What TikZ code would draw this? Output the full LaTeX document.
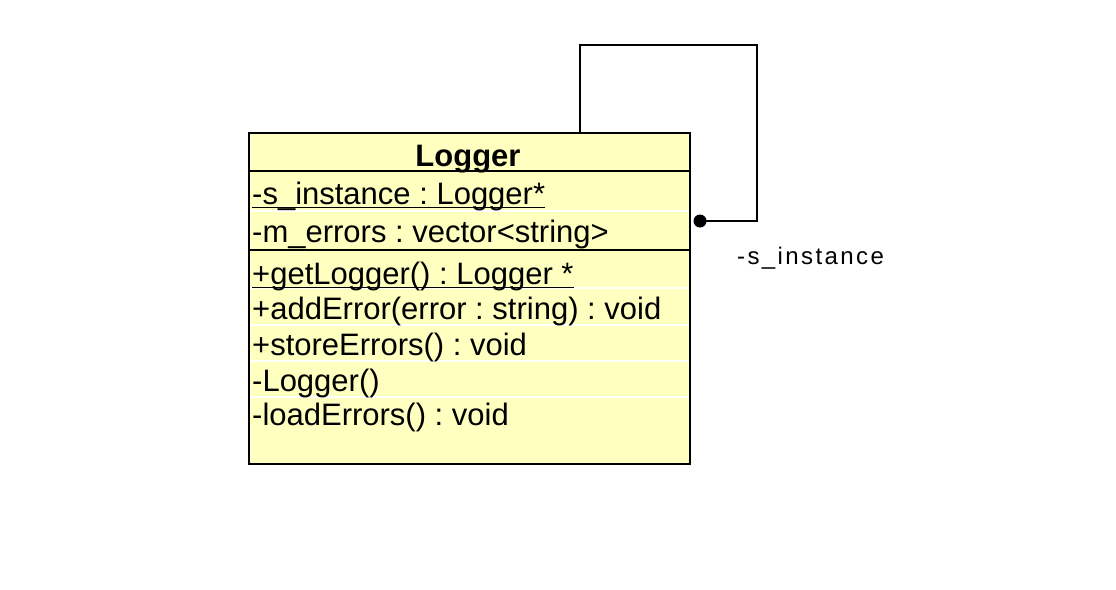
\documentclass[tikz,border=0pt]{standalone}
\usepackage{fontspec}
\setmainfont{Liberation Sans}
\definecolor{classfill}{RGB}{255,255,192}
\begin{document}
\frenchspacing
\begin{tikzpicture}[x=1pt,y=-1pt,
  classbox/.style={draw=black, line width=2pt, fill=classfill, rectangle, inner sep=0pt, minimum width=441pt, minimum height=331pt},
  member/.style={anchor=base west, inner sep=0pt, font=\fontsize{31}{37}\selectfont},
  titletext/.style={anchor=base, inner sep=0pt, font=\fontsize{31}{37}\selectfont\bfseries},
  rowsep/.style={draw=white, line width=1.5pt},
  compsep/.style={draw=black, line width=2pt},
  uline/.style={draw=black, line width=1.8pt},
  assoc/.style={draw=black, line width=2pt},
  rolefont/.style={anchor=base west, inner sep=0pt, font=\fontsize{24}{28}\selectfont\addfontfeature{LetterSpace=10}}
]
\useasboundingbox (0,0) rectangle (1116,589);
\node[classbox] (logger) at (469.5,298.5) {};
% compartment separators
\draw[compsep] (logger.west |- 0,171) -- (logger.east |- 0,171);
\draw[compsep] (logger.west |- 0,250) -- (logger.east |- 0,250);
\foreach \yy in {211,288,325,361,397}
  \draw[rowsep] (250,\yy) -- (689,\yy);
% texts
\node[titletext] (title) at (468,166) {Logger};
\node[member] (a1) at (252,204) {-s\_instance : Logger*};
\node[member] (a2) at (252,242) {-m\_errors : vector<string>};
\node[member] (m1) at (252,284) {+getLogger() : Logger *};
\node[member] (m2) at (252,319) {+addError(error : string) : void};
\node[member] (m3) at (252,355) {+storeErrors() : void};
\node[member] (m4) at (252,391) {-Logger()};
\node[member] (m5) at (252,425) {-loadErrors() : void};
\draw[uline] ([yshift=-3.5pt]a1.base west) -- ([yshift=-3.5pt]a1.base east);
\draw[uline] ([yshift=-3.5pt]m1.base west) -- ([yshift=-3.5pt]m1.base east);
% self association
\coordinate (start) at (logger.north -| 580,0);
\coordinate (c1) at (580,45);
\coordinate (c2) at (757,45);
\coordinate (c3) at (757,221);
\coordinate (dotend) at (700,221);
\draw[assoc] (start) -- (c1) -- (c2) -- (c3) -- (dotend);
\fill (dotend) circle (6.5pt);
\node[rolefont] (role) at (737,264) {-s\_instance};
\end{tikzpicture}
\end{document}
